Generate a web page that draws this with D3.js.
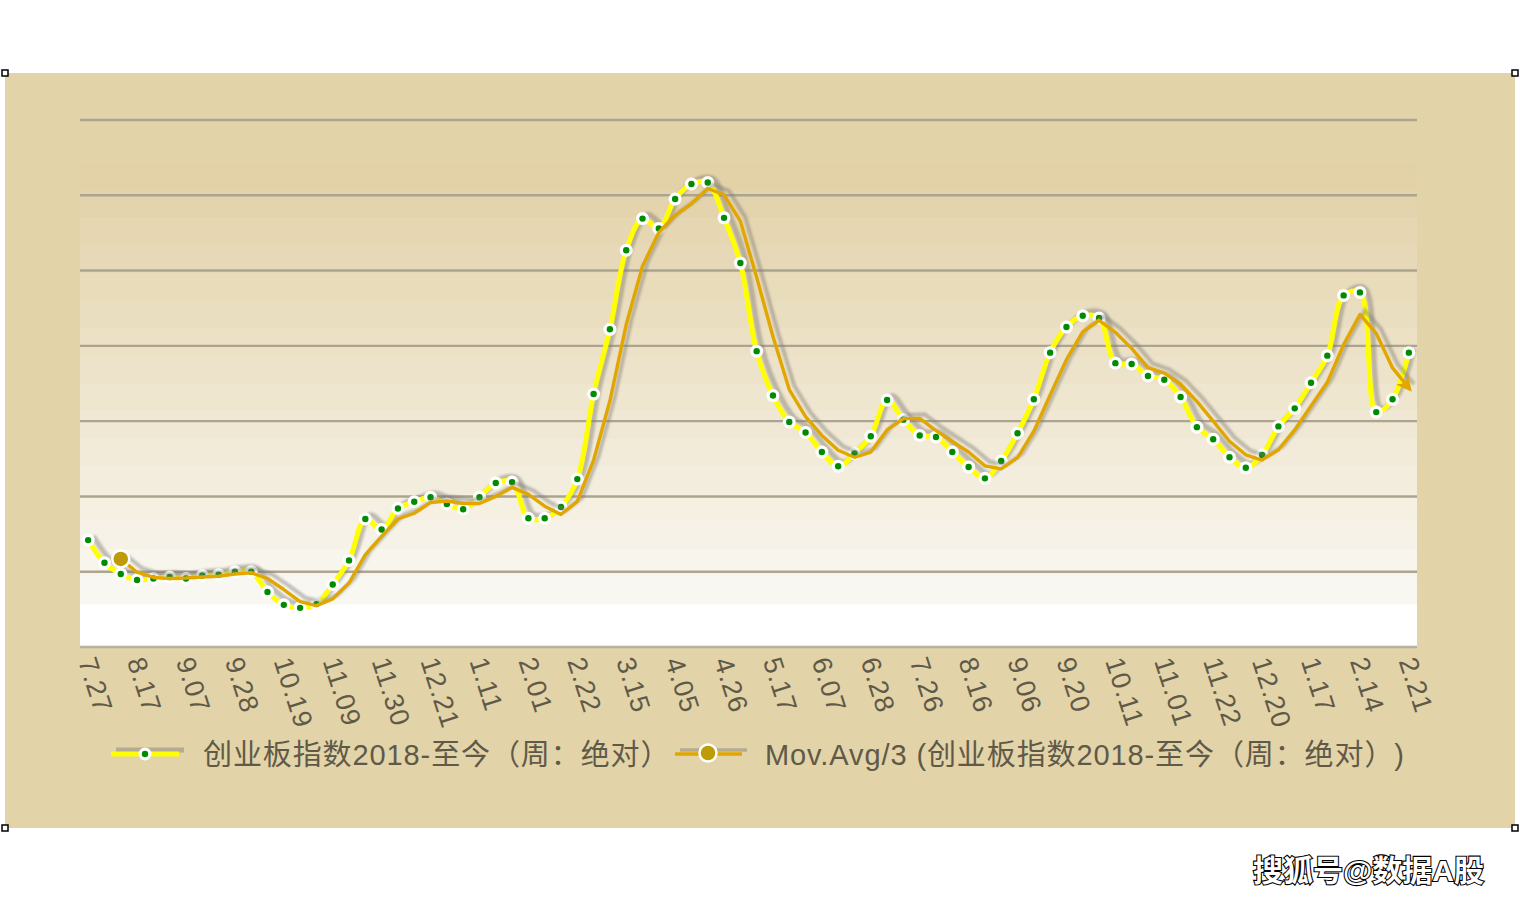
<!DOCTYPE html>
<html>
<head>
<meta charset="utf-8">
<script src="https://cdn.jsdelivr.net/npm/d3@7"></script>
<style>
    body { margin: 0; background: #fff; }
    svg { display: block; }
    text {
        font-family: "Liberation Sans", Arial, "Noto Sans CJK SC", sans-serif;
        text-spacing-trim: space-all;
    }
</style>
</head>
<body>
<div id="chart"></div>
<script>
// Weekly readings (no y labels: one gridline = 100 units)
const values = [
    142, 112, 97, 89, 91, 93, 91, 95, 96, 100,
    100, 73, 56, 52, 57, 83, 115, 170, 156, 184,
    193, 199, 190, 183, 199, 218, 219, 171, 171, 186,
    223, 336, 422, 527, 569, 556, 595, 615, 617, 570,
    510, 393, 334, 299, 285, 259, 240, 257, 280, 328,
    302, 281, 279, 259, 239, 224, 247, 284, 329, 391,
    425, 440, 437, 377, 376, 360, 355, 332, 292, 276,
    252, 238, 255, 293, 317, 351, 387, 467, 471, 312,
    329, 391
];

// One label every third week
const tickLabels = [
    "7.27", "8.17", "9.07", "9.28", "10.19", "11.09", "11.30", "12.21",
    "1.11", "2.01", "2.22", "3.15", "4.05", "4.26", "5.17", "6.07",
    "6.28", "7.26", "8.16", "9.06", "9.20", "10.11", "11.01", "11.22",
    "12.20", "1.17", "2.14", "2.21"
];
const tickEvery = 3;

const seriesName = "创业板指数2018-至今（周：绝对）";
const maName = "Mov.Avg/3 (" + seriesName + ")";
const maPeriod = 3;

const width = 1520;
const height = 902;

// trailing moving average, same as the spreadsheet trendline
const movAvg = values.map((v, i) =>
    i < maPeriod - 1 ? null : d3.mean(values.slice(i - maPeriod + 1, i + 1)));

const svg = d3.select("#chart")
    .append("svg")
    .attr("width", width)
    .attr("height", height);

const defs = svg.append("defs");

defs.append("filter")
    .attr("id", "soft")
    .append("feGaussianBlur")
    .attr("stdDeviation", 0.9);

defs.append("marker")
    .attr("id", "arrow")
    .attr("viewBox", "0 0 10 10")
    .attr("refX", 7)
    .attr("refY", 5)
    .attr("markerWidth", 4.6)
    .attr("markerHeight", 4.6)
    .attr("orient", "auto")
    .append("path")
    .attr("d", "M0,0 L10,5 L0,10 L3,5 z")
    .attr("fill", "#e1a600");

// Outer panel
svg.append("rect")
    .attr("x", 5).attr("y", 73)
    .attr("width", 1510).attr("height", 755)
    .attr("fill", "#e3d3a8");

// Plot area
const plotLeft = 80, plotRight = 1417, plotTop = 120, plotBottom = 647;
const bgTop = 163, bgFade = 604;

const x = d3.scalePoint()
    .domain(d3.range(values.length))
    .range([plotLeft, plotRight])
    .padding(0.5);

const y = d3.scaleLinear()
    .domain([0, 700])
    .range([plotBottom, plotTop]);

// banded gradient background
svg.append("rect")
    .attr("x", plotLeft).attr("y", bgTop)
    .attr("width", plotRight - plotLeft).attr("height", plotBottom - bgTop)
    .attr("fill", "#ffffff");

const nBands = 16;
const bandH = (bgFade - bgTop) / nBands;
const bandColor = d3.interpolateRgb("#e3d2a8", "#f9f7f1");
svg.append("g")
    .selectAll("rect")
    .data(d3.range(nBands))
    .enter()
    .append("rect")
    .attr("x", plotLeft)
    .attr("y", d => bgTop + d * bandH)
    .attr("width", plotRight - plotLeft)
    .attr("height", bandH + 0.5)
    .attr("fill", d => bandColor(d / (nBands - 1)));

// gridlines
svg.append("g")
    .selectAll("line")
    .data(y.ticks(7).filter(t => t > 0))
    .enter()
    .append("line")
    .attr("x1", plotLeft).attr("x2", plotRight)
    .attr("y1", d => y(d)).attr("y2", d => y(d))
    .attr("stroke", "#aba48f")
    .attr("stroke-width", 2.4);

// category axis line
svg.append("line")
    .attr("x1", plotLeft).attr("x2", plotRight)
    .attr("y1", y(0)).attr("y2", y(0))
    .attr("stroke", "#b7b1a1")
    .attr("stroke-width", 2.4);

// x labels, rotated
svg.append("g")
    .selectAll("text")
    .data(tickLabels)
    .enter()
    .append("text")
    .attr("transform", (d, k) => `translate(${x(k * tickEvery) - 1},${plotBottom + 11}) rotate(72)`)
    .attr("dy", "0.36em")
    .attr("font-size", 27)
    .attr("letter-spacing", 1)
    .attr("fill", "#5f5a48")
    .text(d => d);

// Lines
const shadowDx = 5, shadowDy = -4;

const smoothLine = d3.line()
    .x((d, i) => x(i))
    .y(d => y(d))
    .curve(d3.curveCatmullRom);

const maLine = d3.line()
    .defined(d => d !== null)
    .x((d, i) => x(i))
    .y(d => y(d));

// main series
svg.append("path")
    .attr("d", smoothLine(values))
    .attr("transform", `translate(${shadowDx},${shadowDy})`)
    .attr("fill", "none")
    .attr("stroke", "#7d7a74")
    .attr("stroke-opacity", 0.45)
    .attr("stroke-width", 5.5)
    .attr("filter", "url(#soft)");

svg.append("path")
    .attr("d", smoothLine(values))
    .attr("fill", "none")
    .attr("stroke", "#ffff00")
    .attr("stroke-width", 5)
    .attr("stroke-linejoin", "round");

const dots = svg.append("g")
    .selectAll("g")
    .data(values)
    .enter()
    .append("g")
    .attr("transform", (d, i) => `translate(${x(i)},${y(d)})`);

dots.append("circle").attr("r", 6.5).attr("fill", "#ffffff");
dots.append("circle").attr("r", 3.2).attr("fill", "#008c00");

// moving average
svg.append("path")
    .attr("d", maLine(movAvg))
    .attr("transform", `translate(${shadowDx},${shadowDy})`)
    .attr("fill", "none")
    .attr("stroke", "#7d7a74")
    .attr("stroke-opacity", 0.45)
    .attr("stroke-width", 4)
    .attr("filter", "url(#soft)");

svg.append("path")
    .attr("d", maLine(movAvg))
    .attr("fill", "none")
    .attr("stroke", "#e1a600")
    .attr("stroke-width", 3.4)
    .attr("stroke-linejoin", "round")
    .attr("marker-end", "url(#arrow)");

const firstMa = movAvg.findIndex(d => d !== null);
svg.append("circle")
    .attr("cx", x(firstMa))
    .attr("cy", y(movAvg[firstMa]))
    .attr("r", 8.5)
    .attr("fill", "#bf9b08")
    .attr("stroke", "#ffffff")
    .attr("stroke-width", 2.5);

// Legend
const legendY = 754;

function legendSample(x0, x1, color, lineW) {
    svg.append("line")
        .attr("x1", x0 + shadowDx).attr("x2", x1 + shadowDx)
        .attr("y1", legendY + shadowDy).attr("y2", legendY + shadowDy)
        .attr("stroke", "#7d7a74").attr("stroke-opacity", 0.45)
        .attr("stroke-width", lineW);
    svg.append("line")
        .attr("x1", x0).attr("x2", x1)
        .attr("y1", legendY).attr("y2", legendY)
        .attr("stroke", color)
        .attr("stroke-width", lineW);
}

legendSample(111, 179, "#ffff00", 5);
svg.append("circle").attr("cx", 145).attr("cy", legendY).attr("r", 6.5).attr("fill", "#ffffff");
svg.append("circle").attr("cx", 145).attr("cy", legendY).attr("r", 3.2).attr("fill", "#008c00");
svg.append("text")
    .attr("x", 203).attr("y", legendY + 11)
    .attr("font-size", 29)
    .attr("letter-spacing", 0.9)
    .attr("fill", "#5f5a48")
    .text(seriesName);

legendSample(675, 742, "#e1a600", 3.4);
svg.append("circle")
    .attr("cx", 708).attr("cy", legendY - 1)
    .attr("r", 8.5)
    .attr("fill", "#bf9b08")
    .attr("stroke", "#ffffff")
    .attr("stroke-width", 2.5);
svg.append("text")
    .attr("x", 765).attr("y", legendY + 11)
    .attr("font-size", 29)
    .attr("letter-spacing", 0.9)
    .attr("fill", "#5f5a48")
    .text(maName);

// corner handles of the selected chart object
const handles = [[5, 73], [1515, 73], [5, 828], [1515, 828]];
svg.append("g")
    .selectAll("rect")
    .data(handles)
    .enter()
    .append("rect")
    .attr("x", d => d[0] - 3).attr("y", d => d[1] - 3)
    .attr("width", 6).attr("height", 6)
    .attr("fill", "#ffffff")
    .attr("stroke", "#000000")
    .attr("stroke-width", 1.5);

// watermark
svg.append("text")
    .attr("x", 1253).attr("y", 881)
    .attr("font-size", 30)
    .attr("font-weight", "bold")
    .attr("font-family", "'Noto Sans CJK SC', sans-serif")
    .attr("fill", "#ffffff")
    .attr("stroke", "#000000")
    .attr("stroke-width", 2.2)
    .attr("paint-order", "stroke")
    .text("搜狐号@数据A股");
</script>
</body>
</html>
